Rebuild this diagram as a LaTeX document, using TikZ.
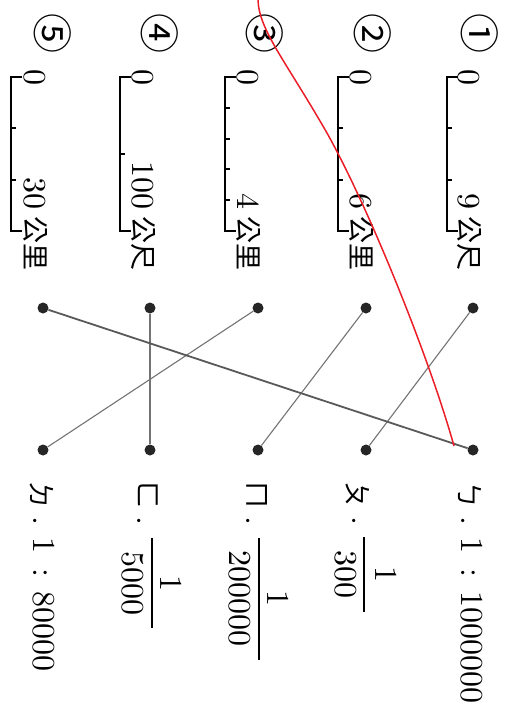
\documentclass[tikz,border=0pt]{standalone}
\usepackage{fontspec}
\newfontfamily\cjk{Noto Sans CJK TC}
\definecolor{pen}{RGB}{235,30,40}

\begin{document}
\begin{tikzpicture}[x=1pt, y=-1pt,
  txt/.style={rotate=-90, scale=3.2, inner sep=0pt, font=\fontsize{10}{12}\selectfont},
  zh/.style={rotate=-90, inner sep=0pt, font=\cjk\fontsize{27}{29}\selectfont},
  circ/.style={rotate=-90, inner sep=0pt, font=\cjk\fontsize{40}{42}\selectfont},
  dot/.style={circle, fill=black!85, inner sep=0pt, minimum size=11pt},
  bar/.style={line width=1.3pt},
  fbar/.style={line width=1.5pt},
  link/.style={black!55, line width=1.1pt}
]
\useasboundingbox (0,0) rectangle (510,720);

% scale 1
\node[circ] (c1) at (480,33) {①};
\draw[bar] (458,77) -- (447,77) -- (447,231) -- (458,231);
\draw[bar] (447,128) -- (452,128) (447,180) -- (452,180);
\node[txt, anchor=base] (z1) at (458,77) {0};
\node[txt, anchor=base east] (e1) at (458,210) {9};
\node[zh, anchor=base west] (u1) at (459,216) {公尺};

% scale 2
\node[circ] (c2) at (373,33) {②};
\draw[bar] (349,77) -- (338,77) -- (338,231) -- (349,231);
\draw[bar] (338,128) -- (343,128) (338,180) -- (343,180);
\node[txt, anchor=base] (z2) at (350,77) {0};
\node[txt, anchor=base east] (e2) at (350,210) {6};
\node[zh, anchor=base west] (u2) at (351,216) {公里};

% scale 3
\node[circ] (c3) at (265,33) {③};
\draw[bar] (236,77) -- (225,77) -- (225,231) -- (236,231);
\draw[bar] (225,108) -- (230,108) (225,139) -- (230,139)
           (225,169) -- (230,169) (225,200) -- (230,200);
\node[txt, anchor=base] (z3) at (237,77) {0};
\node[txt, anchor=base east] (e3) at (237,210) {4};
\node[zh, anchor=base west] (u3) at (238,216) {公里};

% scale 4
\node[circ] (c4) at (160,33) {④};
\draw[bar] (131,77) -- (120,77) -- (120,231) -- (131,231);
\draw[bar] (120,154) -- (125,154);
\node[txt, anchor=base] (z4) at (132,77) {0};
\node[txt, anchor=base east] (e4) at (132,210) {100};
\node[zh, anchor=base west] (u4) at (133,216) {公尺};

% scale 5
\node[circ] (c5) at (53,33) {⑤};
\draw[bar] (22,77) -- (11,77) -- (11,231) -- (22,231);
\draw[bar] (11,128) -- (16,128) (11,180) -- (16,180);
\node[txt, anchor=base] (z5) at (24,77) {0};
\node[txt, anchor=base east] (e5) at (24,210) {30};
\node[zh, anchor=base west] (u5) at (25,216) {公里};

% dots
\node[dot] (t1) at (473,308) {};
\node[dot] (t2) at (366,308) {};
\node[dot] (t3) at (258,308) {};
\node[dot] (t4) at (150,308) {};
\node[dot] (t5) at (43,308) {};
\node[dot] (b1) at (473,450) {};
\node[dot] (b2) at (366,450) {};
\node[dot] (b3) at (258,450) {};
\node[dot] (b4) at (150,450) {};
\node[dot] (b5) at (43,450) {};

% answers
\draw[link] (t1) -- (b2);
\draw[link] (t2) -- (b3);
\draw[link] (t3) -- (b5);
\draw[link] (t4) -- (b4);
\draw[link, line width=1.8pt, black!65] (t5) -- (b1);

% options
\node[zh] (o1) at (470,495) {ㄅ};
\node[txt, anchor=base] (p1) at (461,521) {.};
\node[txt, anchor=base west] (r1) at (461,537) {1\hspace{4.5pt}:\hspace{4.5pt}1000000};

\node[zh] (o2) at (358,495) {ㄆ};
\node[txt, anchor=base] (p2) at (352,521) {.};
\node[txt] (n2) at (386,574) {1};
\node[txt] (d2) at (346,574) {300};
\draw[fbar] (364,537) -- (364,612);

\node[zh] (o3) at (257,495) {ㄇ};
\node[txt, anchor=base] (p3) at (246,521) {.};
\node[txt] (n3) at (278,598) {1};
\node[txt] (d3) at (240,598) {200000};
\draw[fbar] (259,538) -- (259,660);

\node[zh] (o4) at (148,495) {ㄈ};
\node[txt, anchor=base] (p4) at (137,521) {.};
\node[txt] (n4) at (171,583) {1};
\node[txt] (d4) at (133,583) {5000};
\draw[fbar] (152,538) -- (152,628);

\node[zh] (o5) at (42,495) {ㄉ};
\node[txt, anchor=base] (p5) at (33,521) {.};
\node[txt, anchor=base west] (r5) at (33,537) {1\hspace{4.5pt}:\hspace{4.5pt}80000};

% pen stroke
\draw[pen, line width=1.5pt] (258,0) .. controls (259,30) and (285,60) .. (327,133)
  .. controls (370,210) and (430,360) .. (454,446);
\end{tikzpicture}
\end{document}
